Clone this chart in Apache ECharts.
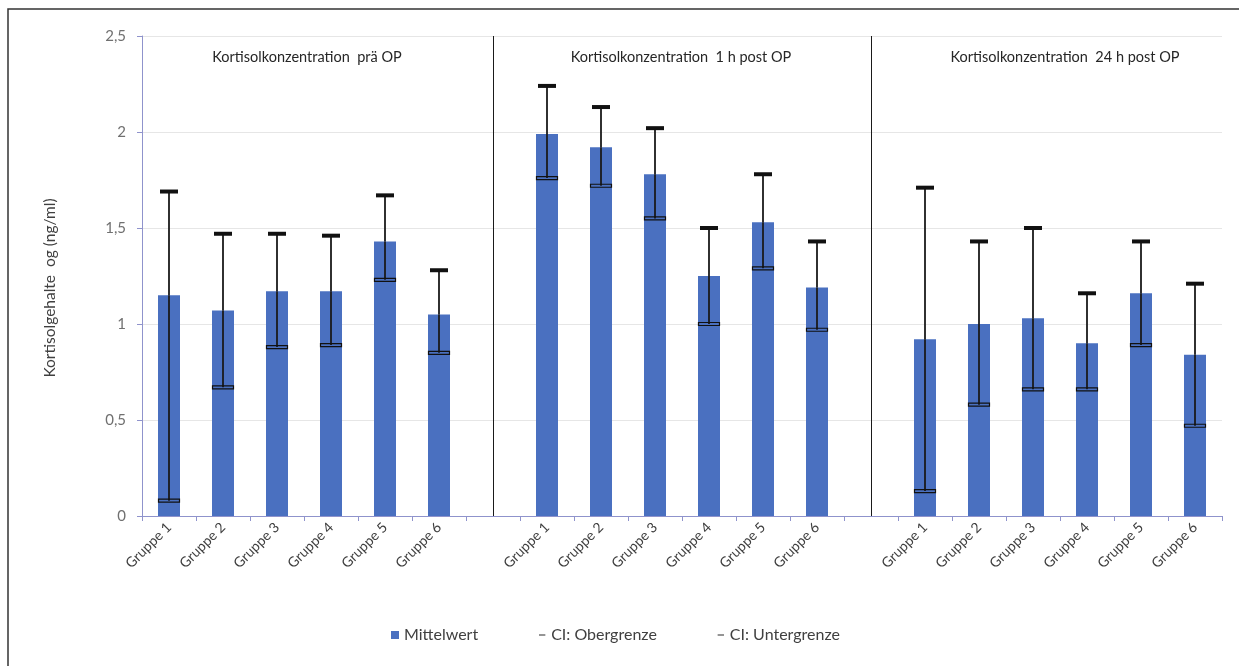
<!DOCTYPE html>
<html>
<head>
<meta charset="utf-8">
<script src="https://cdn.jsdelivr.net/npm/echarts@6/dist/echarts.min.js"></script>
<style>html,body{margin:0;padding:0;background:#fff;}#c{width:1239px;height:666px;}</style>
</head>
<body>
<div id="c"></div>
<script>
// ---- data ----
var groups = ['Gruppe 1', 'Gruppe 2', 'Gruppe 3', 'Gruppe 4', 'Gruppe 5', 'Gruppe 6'];
var panelTitles = ['Kortisolkonzentration  prä OP', 'Kortisolkonzentration  1 h post OP', 'Kortisolkonzentration  24 h post OP'];
var yTicks = [0, 0.5, 1, 1.5, 2, 2.5];

var meanPre  = [1.15, 1.07, 1.17, 1.17, 1.43, 1.05];
var upperPre = [1.69, 1.47, 1.47, 1.46, 1.67, 1.28];
var lowerPre = [0.08, 0.67, 0.88, 0.89, 1.23, 0.85];

var mean1h  = [1.99, 1.92, 1.78, 1.25, 1.53, 1.19];
var upper1h = [2.24, 2.13, 2.02, 1.50, 1.78, 1.43];
var lower1h = [1.76, 1.72, 1.55, 1.00, 1.29, 0.97];

var mean24h  = [0.92, 1.00, 1.03, 0.90, 1.16, 0.84];
var upper24h = [1.71, 1.43, 1.50, 1.16, 1.43, 1.21];
var lower24h = [0.13, 0.58, 0.66, 0.66, 0.89, 0.47];

// ---- build category axis with a spacer between panels ----
var panels = [
  {mean: meanPre, upper: upperPre, lower: lowerPre},
  {mean: mean1h, upper: upper1h, lower: lower1h},
  {mean: mean24h, upper: upper24h, lower: lower24h}
];
var categories = [], means = [], upData = [], loData = [], dividers = [];
panels.forEach(function (p, pi) {
  if (pi > 0) {
    dividers.push(categories.length);
    categories.push('');
    means.push('-');
  }
  groups.forEach(function (g, gi) {
    var idx = categories.length;
    categories.push(g);
    means.push(p.mean[gi]);
    upData.push([idx, p.mean[gi], p.upper[gi]]);
    loData.push([idx, p.mean[gi], p.lower[gi]]);
  });
});

function errRender(isUpper) {
  return function (params, api) {
    var x = api.value(0);
    var a = api.coord([x, api.value(1)]);
    var b = api.coord([x, api.value(2)]);
    var capW = isUpper ? 18 : 21;
    var children = [
      {type: 'line', shape: {x1: a[0], y1: a[1], x2: b[0], y2: b[1]},
       style: {stroke: '#1a1a1a', lineWidth: 1.8}}
    ];
    if (isUpper) {
      children.push({type: 'rect', shape: {x: b[0] - capW / 2, y: b[1] - 2, width: capW, height: 4},
        style: {fill: '#111'}});
    } else {
      children.push({type: 'rect', shape: {x: b[0] - capW / 2, y: b[1] - 1.5, width: capW, height: 3},
        style: {fill: 'none', stroke: '#111', lineWidth: 1.2}});
    }
    return {type: 'group', children: children};
  };
}

var FONT = 'Lato, "Noto Sans", sans-serif';
var axisBlue = '#8f93cc';
var dashIcon = 'path://M0,0M10,10M1,4.4H9V5.6H1Z';

var chart = echarts.init(document.getElementById('c'), null, {renderer: 'canvas'});
chart.setOption({
  animation: false,
  textStyle: {fontFamily: FONT},
  title: [
    {text: panelTitles[0], left: 302, top: 45, textAlign: 'center',
     textStyle: {fontSize: 14.5, fontWeight: 'normal', color: '#262626', fontFamily: FONT}},
    {text: panelTitles[1], left: 676, top: 45, textAlign: 'center',
     textStyle: {fontSize: 14.5, fontWeight: 'normal', color: '#262626', fontFamily: FONT}},
    {text: panelTitles[2], left: 1060, top: 45, textAlign: 'center',
     textStyle: {fontSize: 14.5, fontWeight: 'normal', color: '#262626', fontFamily: FONT}}
  ],
  grid: {left: 142, right: 17, top: 36, bottom: 150, containLabel: false},
  legend: {
    left: 386, top: 622, itemWidth: 8, itemHeight: 8, itemGap: 60, itemTextGap: 10,
    textStyle: {fontSize: 16, color: '#404040', fontFamily: FONT},
    data: [
      {name: 'Mittelwert', icon: 'rect'},
      {name: 'CI: Obergrenze', icon: dashIcon},
      {name: 'CI: Untergrenze', icon: dashIcon}
    ]
  },
  xAxis: {
    type: 'category',
    data: categories,
    boundaryGap: true,
    axisLine: {lineStyle: {color: axisBlue, width: 1}},
    axisTick: {show: true, interval: 0, length: 5, lineStyle: {color: axisBlue}},
    axisLabel: {interval: 0, rotate: 45, margin: 9, fontSize: 14, color: '#404040', fontFamily: FONT},
    splitLine: {show: false}
  },
  yAxis: {
    type: 'value',
    min: yTicks[0], max: yTicks[yTicks.length - 1], interval: 0.5,
    name: 'Kortisolgehalte  og (ng/ml)',
    nameLocation: 'middle', nameGap: 84,
    nameTextStyle: {fontSize: 15.5, color: '#404040', fontFamily: FONT, padding: [0, 24, 0, 0]},
    axisLine: {show: true, lineStyle: {color: axisBlue, width: 1}},
    axisTick: {show: true, length: 5, lineStyle: {color: axisBlue}},
    axisLabel: {margin: 16, fontSize: 15, color: '#707070', fontFamily: FONT,
      formatter: function (v) { return String(v).replace('.', ','); }},
    splitLine: {show: true, lineStyle: {color: '#e6e6e6', width: 1}}
  },
  series: [
    {
      name: 'Mittelwert', type: 'bar', data: means, barWidth: 22,
      itemStyle: {color: '#4a70c0'},
      markLine: {
        silent: true, symbol: 'none', label: {show: false},
        lineStyle: {color: '#1a1a1a', width: 1, type: 'solid'},
        data: dividers.map(function (d) { return {xAxis: d}; })
      }
    },
    {name: 'CI: Obergrenze', type: 'custom', data: upData, renderItem: errRender(true),
     itemStyle: {color: '#222'}, encode: {x: 0, y: [1, 2]}, z: 5},
    {name: 'CI: Untergrenze', type: 'custom', data: loData, renderItem: errRender(false),
     itemStyle: {color: '#222'}, encode: {x: 0, y: [1, 2]}, z: 5}
  ],
  graphic: [
    {type: 'polyline', shape: {points: [[8, 666], [8, 9], [1239, 9]]},
     style: {stroke: '#333', lineWidth: 1.5, fill: 'none'}, silent: true}
  ]
});
</script>
</body>
</html>
